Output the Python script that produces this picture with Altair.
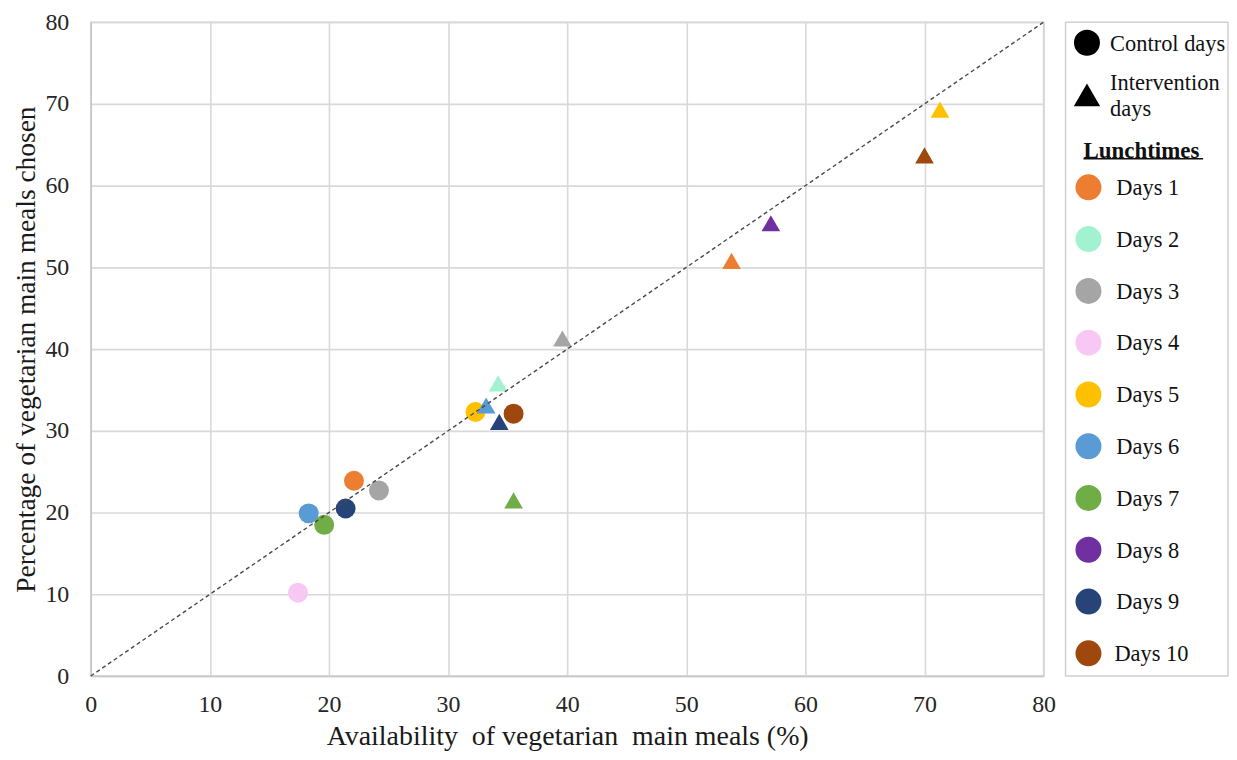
import altair as alt
import pandas as pd

# ---------------- data ----------------
days = ["Days 1", "Days 2", "Days 3", "Days 4", "Days 5",
        "Days 6", "Days 7", "Days 8", "Days 9", "Days 10"]
day_colors = ["#ED7D31", "#A2F2D2", "#A5A5A5", "#F8C8F4", "#FFC000",
              "#5B9BD5", "#70AD47", "#7030A0", "#264478", "#9E480E"]

ctrl_days = ["Days 1", "Days 3", "Days 4", "Days 5", "Days 6", "Days 7", "Days 9", "Days 10"]
ctrl_x = [22.1, 24.2, 17.4, 32.3, 18.3, 19.6, 21.4, 35.5]
ctrl_y = [23.9, 22.7, 10.2, 32.3, 19.9, 18.5, 20.5, 32.1]

int_days = ["Days 1", "Days 2", "Days 3", "Days 5", "Days 6", "Days 7", "Days 8", "Days 9", "Days 10"]
int_x = [53.8, 34.2, 39.6, 71.3, 33.2, 35.5, 57.1, 34.3, 70.0]
int_y = [50.8, 35.8, 41.3, 69.3, 33.1, 21.5, 55.4, 31.1, 63.7]

diag = [0, 80]
ticks = [0, 10, 20, 30, 40, 50, 60, 70, 80]

x_title = "Availability\u00a0 of vegetarian\u00a0 main meals (%)"
y_title = "Percentage of vegetarian main meals chosen"

type_labels = ["Control days", ["Intervention", "days"]]
legend_header = "Lunchtimes"

FONT = "Liberation Serif"
W, H = 956, 656

ctrl_df = pd.DataFrame({"day": ctrl_days, "x": ctrl_x, "y": ctrl_y})
int_df = pd.DataFrame({"day": int_days, "x": int_x, "y": int_y})
diag_df = pd.DataFrame({"x": diag, "y": diag})

xs = alt.Scale(domain=[0, 80], nice=False, zero=False)
ys = alt.Scale(domain=[0, 80], nice=False, zero=False)
cs = alt.Scale(domain=days, range=day_colors)

x_axis = alt.Axis(values=ticks, title=x_title, grid=True, ticks=False, tickSize=0, labelFlush=False,
                  labelPadding=17, titlePadding=6, labelFontSize=24, titleFontSize=28)
y_axis = alt.Axis(values=ticks, title=y_title, grid=True, ticks=False, tickSize=0, labelFlush=False,
                  labelPadding=22, titlePadding=4, labelFontSize=24, titleFontSize=27.5)

circles = alt.Chart(ctrl_df).mark_point(shape="circle", filled=True, opacity=1, size=400).encode(
    x=alt.X("x:Q", scale=xs, axis=x_axis),
    y=alt.Y("y:Q", scale=ys, axis=y_axis),
    color=alt.Color("day:N", scale=cs, legend=None),
)
triangles = alt.Chart(int_df).mark_point(shape="triangle-up", filled=True, opacity=1, size=350).encode(
    x=alt.X("x:Q", scale=xs),
    y=alt.Y("y:Q", scale=ys),
    color=alt.Color("day:N", scale=cs, legend=None),
)
line = alt.Chart(diag_df).mark_line(color="#4a4a4a", strokeWidth=1.4, strokeDash=[4, 3]).encode(
    x=alt.X("x:Q", scale=xs),
    y=alt.Y("y:Q", scale=ys),
)
main = alt.layer(circles, triangles, line).properties(width=W, height=H)

# ---------------- legend panel ----------------
LW = 163
LH = H
dy = -3.0
sym_rows = [{"lx": 21.5, "ly": 23.7 + dy, "shape": "circle", "col": "#000000", "sz": 680},
            {"lx": 21.5, "ly": 76.0 + dy, "shape": "triangle-up", "col": "#000000", "sz": 700}]
txt_rows = [{"lx": 44.7, "ly": 24.5 + dy, "t": type_labels[0]},
            {"lx": 44.7, "ly": 64.0 + dy, "t": type_labels[1][0]},
            {"lx": 44.7, "ly": 90.5 + dy, "t": type_labels[1][1]}]
top, step = 168.7 + dy, 51.95
for i, (d, c) in enumerate(zip(days, day_colors)):
    sym_rows.append({"lx": 23.0, "ly": top + i * step, "shape": "circle", "col": c, "sz": 680})
    txt_rows.append({"lx": 51.0 if i < 9 else 49.0, "ly": top + i * step + 0.8, "t": d})

lxs = alt.Scale(domain=[0, LW], nice=False, zero=False)
lys = alt.Scale(domain=[0, LH], nice=False, zero=False, reverse=True)

leg_sym = alt.Chart(pd.DataFrame(sym_rows)).mark_point(filled=True, opacity=1).encode(
    x=alt.X("lx:Q", scale=lxs, axis=None),
    y=alt.Y("ly:Q", scale=lys, axis=None),
    shape=alt.Shape("shape:N", scale=None),
    color=alt.Color("col:N", scale=None),
    size=alt.Size("sz:Q", scale=None),
)
leg_txt = alt.Chart(pd.DataFrame(txt_rows)).mark_text(
    align="left", baseline="middle", font=FONT, fontSize=22.5, color="#111111"
).encode(
    x=alt.X("lx:Q", scale=lxs, axis=None),
    y=alt.Y("ly:Q", scale=lys, axis=None),
    text="t:N",
)
leg_head = alt.Chart(pd.DataFrame({"lx": [18.0], "ly": [132.0 + dy], "t": [legend_header]})).mark_text(
    align="left", baseline="middle", font=FONT, fontSize=23, fontWeight="bold", color="#111111"
).encode(
    x=alt.X("lx:Q", scale=lxs, axis=None),
    y=alt.Y("ly:Q", scale=lys, axis=None),
    text="t:N",
)
leg_line = alt.Chart(pd.DataFrame({"lx": [18.0], "lx2": [138.0], "ly": [140.0 + dy]})).mark_rule(
    color="#111111", strokeWidth=1.5
).encode(
    x=alt.X("lx:Q", scale=lxs, axis=None),
    x2="lx2:Q",
    y=alt.Y("ly:Q", scale=lys, axis=None),
)
legend = alt.layer(leg_sym, leg_txt, leg_head, leg_line).properties(width=LW, height=LH)

chart = alt.hconcat(main, legend, spacing=8).properties(
    padding={"left": 4, "top": 0, "right": 0, "bottom": 0}
).configure(
    font=FONT,
).configure_view(
    stroke="#d0d0d0", strokeWidth=1.5
).configure_axis(
    labelFont=FONT, titleFont=FONT, labelColor="#262626", titleColor="#1a1a1a",
    titleFontWeight="normal", gridColor="#d9d9d9", gridWidth=1.6,
    domainColor="#c8c8c8", domainWidth=1.6,
)

chart.save("out.html", embed_options={"renderer": "svg", "actions": False})
